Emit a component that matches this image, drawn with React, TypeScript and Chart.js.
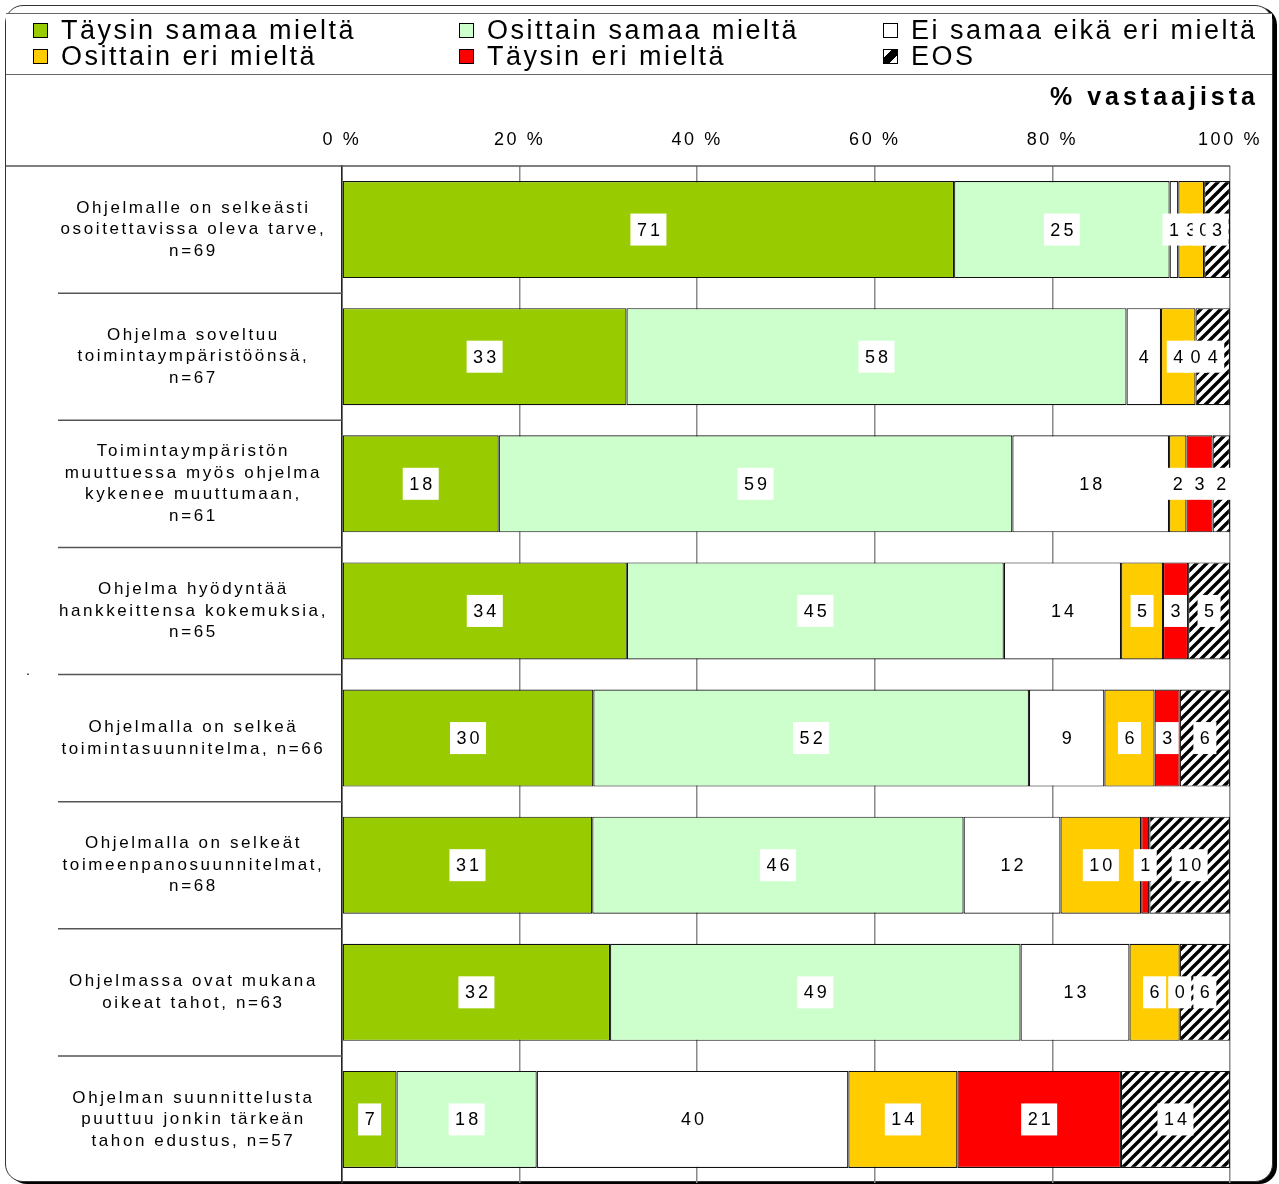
import React, { useEffect, useRef } from 'react';
import { Chart, registerables } from 'chart.js';

Chart.register(...registerables);

// ---------- DATA ----------
const categories: string[][] = [
  ['Ohjelmalle on selkeästi', 'osoitettavissa oleva tarve,', 'n=69'],
  ['Ohjelma soveltuu', 'toimintaympäristöönsä,', 'n=67'],
  ['Toimintaympäristön', 'muuttuessa myös ohjelma', 'kykenee muuttumaan,', 'n=61'],
  ['Ohjelma hyödyntää', 'hankkeittensa kokemuksia,', 'n=65'],
  ['Ohjelmalla on selkeä', 'toimintasuunnitelma, n=66'],
  ['Ohjelmalla on selkeät', 'toimeenpanosuunnitelmat,', 'n=68'],
  ['Ohjelmassa ovat mukana', 'oikeat tahot, n=63'],
  ['Ohjelman suunnittelusta', 'puuttuu jonkin tärkeän', 'tahon edustus, n=57'],
];

const seriesNames = [
  'Täysin samaa mieltä',
  'Osittain samaa mieltä',
  'Ei samaa eikä eri mieltä',
  'Osittain eri mieltä',
  'Täysin eri mieltä',
  'EOS',
];

const taysinSamaa = [71, 33, 18, 34, 30, 31, 32, 7];
const osittainSamaa = [25, 58, 59, 45, 52, 46, 49, 18];
const eiSamaaEikaEri = [1, 4, 18, 14, 9, 12, 13, 40];
const osittainEri = [3, 4, 2, 5, 6, 10, 6, 14];
const taysinEri = [0, 0, 3, 3, 3, 1, 0, 21];
const eos = [3, 4, 2, 5, 6, 10, 6, 14];

const xTickValues = [0, 20, 40, 60, 80, 100];
const axisTitle = '% vastaajista';

// ---------- STYLE ----------
const seriesColors = ['#99CC00', '#CCFFCC', '#FFFFFF', '#FFCC00', '#FF0000', 'HATCH'];
const FONT = "'Liberation Sans', Arial, Helvetica, sans-serif";
const SPACING = '2.6px';
const LABEL_SPACING = 3;

const seriesRaw = [taysinSamaa, osittainSamaa, eiSamaaEikaEri, osittainEri, taysinEri, eos];

function makeHatch(ctx: CanvasRenderingContext2D): CanvasPattern | string {
  const pc = document.createElement('canvas');
  pc.width = 10;
  pc.height = 10;
  const p = pc.getContext('2d');
  if (!p) return '#888';
  p.fillStyle = '#fff';
  p.fillRect(0, 0, 10, 10);
  p.strokeStyle = '#000';
  p.lineWidth = 3.4;
  p.beginPath();
  p.moveTo(-2, 12); p.lineTo(12, -2);
  p.moveTo(-7, 7); p.lineTo(7, -7);
  p.moveTo(3, 17); p.lineTo(17, 3);
  p.stroke();
  return ctx.createPattern(pc, 'repeat') || '#888';
}

const spacingPlugin = {
  id: 'letterSpacing',
  beforeLayout(chart: any) { chart.ctx.letterSpacing = SPACING; },
  beforeDraw(chart: any) { chart.ctx.letterSpacing = SPACING; },
};

const separatorPlugin = {
  id: 'separators',
  beforeDatasetsDraw(chart: any) {
    const { ctx, chartArea, scales } = chart;
    const y = scales.y;
    const n = chart.data.labels.length;
    ctx.save();
    ctx.strokeStyle = '#555';
    ctx.lineWidth = 1.5;
    ctx.beginPath();
    ctx.moveTo(6, chartArea.top);
    ctx.lineTo(chartArea.right, chartArea.top);
    for (let i = 1; i < n; i++) {
      const yy = (y.getPixelForValue(i - 1) + y.getPixelForValue(i)) / 2;
      ctx.moveTo(58, yy);
      ctx.lineTo(chartArea.left, yy);
    }
    ctx.stroke();
    ctx.restore();
  },
};

const labelPlugin = {
  id: 'segmentLabels',
  afterDatasetsDraw(chart: any) {
    const ctx = chart.ctx as CanvasRenderingContext2D;
    const n = chart.data.labels.length;
    ctx.save();
    ctx.font = `18px ${FONT}`;
    (ctx as any).letterSpacing = `${LABEL_SPACING}px`;
    ctx.textAlign = 'left';
    ctx.textBaseline = 'middle';
    for (let i = 0; i < n; i++) {
      chart.data.datasets.forEach((_ds: any, d: number) => {
        const el = chart.getDatasetMeta(d).data[i];
        if (!el) return;
        const text = String(seriesRaw[d][i]);
        const cx = (el.x + el.base) / 2;
        const cy = el.y;
        const w = ctx.measureText(text).width - LABEL_SPACING;
        const pad = 6.5;
        ctx.fillStyle = '#fff';
        ctx.fillRect(cx - w / 2 - pad, cy - 16, w + pad * 2, 32);
        ctx.fillStyle = '#000';
        ctx.fillText(text, cx - w / 2, cy + 1);
      });
    }
    ctx.restore();
  },
};

export default function App() {
  const ref = useRef<HTMLCanvasElement>(null);

  useEffect(() => {
    const canvas = ref.current;
    if (!canvas) return;
    const ctx = canvas.getContext('2d');
    if (!ctx) return;
    const hatch = makeHatch(ctx);
    const totals = categories.map((_, i) => seriesRaw.reduce((s, arr) => s + arr[i], 0));

    const datasets = seriesNames.map((name, d) => ({
      label: name,
      data: seriesRaw[d].map((v, i) => (v / totals[i]) * 100),
      backgroundColor: seriesColors[d] === 'HATCH' ? hatch : seriesColors[d],
      borderColor: '#111',
      borderWidth: 1.2,
      borderSkipped: false,
      barPercentage: 1,
      categoryPercentage: 0.764,
    }));

    const chart = new Chart(ctx, {
      type: 'bar',
      data: { labels: categories, datasets: datasets as any },
      options: {
        indexAxis: 'y',
        responsive: false,
        animation: false,
        devicePixelRatio: 1,
        layout: { padding: { left: 8, right: 49, top: 106, bottom: 1 } },
        plugins: {
          legend: { display: false },
          title: { display: false },
          tooltip: { enabled: false },
        },
        scales: {
          x: {
            position: 'top',
            stacked: true,
            min: 0,
            max: 100,
            afterBuildTicks: (scale: any) => {
              scale.ticks = xTickValues.map((v) => ({ value: v }));
            },
            afterFit: (scale: any) => {
              scale.height = 60;
              scale.paddingLeft = 0;
              scale.paddingRight = 0;
            },
            grid: { color: '#8a8a8a', lineWidth: 1.5, drawTicks: false },
            border: { display: false },
            ticks: {
              padding: 15,
              color: '#000',
              maxRotation: 0,
              autoSkip: false,
              font: { family: FONT, size: 18 },
              callback: (v: any) => `${v} %`,
            },
          },
          y: {
            stacked: true,
            afterFit: (scale: any) => {
              scale.width = 334;
              scale.paddingTop = 0;
              scale.paddingBottom = 0;
            },
            grid: { display: false, drawTicks: false },
            border: { display: true, color: '#222', width: 1.5 },
            ticks: {
              crossAlign: 'center',
              padding: 14,
              color: '#000',
              autoSkip: false,
              font: { family: FONT, size: 17, lineHeight: '21.5px' },
            },
          },
        },
      } as any,
      plugins: [spacingPlugin, separatorPlugin, labelPlugin],
    });
    return () => chart.destroy();
  }, []);

  const legendCols = [33, 459, 883];
  const legendRows = [30, 56];

  return (
    <div
      style={{
        position: 'absolute',
        left: 0,
        top: 0,
        width: 1279,
        height: 1184,
        overflow: 'hidden',
        background: '#fff',
        fontFamily: FONT,
      }}
    >
      <div
        style={{
          position: 'absolute',
          left: 5,
          top: 5,
          width: 1266,
          height: 1175,
          border: '1px solid #333',
          borderRadius: 18,
          boxShadow: '4px 2px 0 #000',
          background: '#fff',
        }}
      />
      <div
        style={{
          position: 'absolute',
          left: 6,
          top: 13,
          width: 1266,
          height: 60,
          borderTop: '1px solid #666',
          borderBottom: '1px solid #666',
          background: '#fff',
        }}
      />
      <canvas
        ref={ref}
        width={1279}
        height={1184}
        style={{ position: 'absolute', left: 0, top: 0, width: 1279, height: 1184 }}
      />
      {seriesNames.map((name, i) => {
        const col = i % 3;
        const row = Math.floor(i / 3);
        const isHatch = seriesColors[i] === 'HATCH';
        return (
          <div
            key={name}
            style={{
              position: 'absolute',
              left: legendCols[col],
              top: legendRows[row] - 15,
              height: 30,
              display: 'flex',
              alignItems: 'center',
              whiteSpace: 'nowrap',
            }}
          >
            <span
              style={{
                display: 'inline-block',
                width: 15,
                height: 15,
                boxSizing: 'border-box',
                border: '1px solid #000',
                marginRight: 13,
                background: isHatch
                  ? 'linear-gradient(to bottom right, #fff 0 30%, #000 30% 70%, #fff 70%)'
                  : seriesColors[i],
              }}
            />
            <span style={{ fontSize: 27, letterSpacing: '2.5px', lineHeight: '30px', color: '#000' }}>
              {name}
            </span>
          </div>
        );
      })}
      <div
        style={{
          position: 'absolute',
          right: 20,
          top: 81,
          fontSize: 25,
          fontWeight: 'bold',
          letterSpacing: '4px',
          lineHeight: '30px',
          color: '#000',
          whiteSpace: 'nowrap',
        }}
      >
        {axisTitle}
      </div>
      <span style={{ position: 'absolute', left: 26, top: 662, fontSize: 14, color: '#000' }}>.</span>
    </div>
  );
}
